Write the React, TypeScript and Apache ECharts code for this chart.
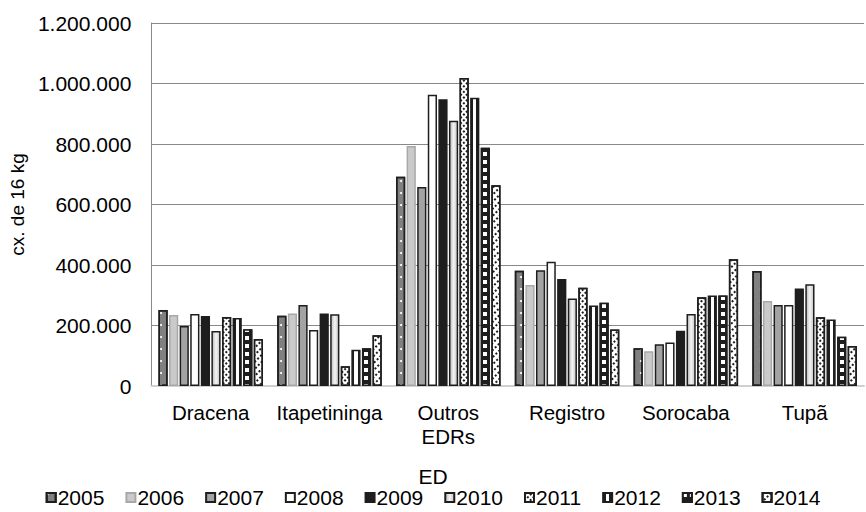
import React, { useEffect, useRef } from "react";
import * as echarts from "echarts";

// Escritórios de Desenvolvimento Rural (EDR)
const categories = ["Dracena", "Itapetininga", "Outros\nEDRs", "Registro", "Sorocaba", "Tupã"];
const years = ["2005", "2006", "2007", "2008", "2009", "2010", "2011", "2012", "2013", "2014"];

// Produção em caixas de 16 kg, por ano (ordem de categories)
const v2005 = [251000, 232000, 692000, 381000, 125000, 380000];
const v2006 = [235000, 240000, 793000, 334000, 115000, 281000];
const v2007 = [198000, 268000, 658000, 383000, 138000, 268000];
const v2008 = [238000, 185000, 963000, 411000, 144000, 268000];
const v2009 = [231000, 240000, 948000, 354000, 183000, 322000];
const v2010 = [182000, 237000, 877000, 289000, 238000, 336000];
const v2011 = [228000, 65000, 1018000, 325000, 293000, 227000];
const v2012 = [225000, 120000, 953000, 266000, 299000, 220000];
const v2013 = [188000, 125000, 788000, 275000, 299000, 163000];
const v2014 = [155000, 168000, 664000, 187000, 419000, 132000];

const seriesValues = [v2005, v2006, v2007, v2008, v2009, v2010, v2011, v2012, v2013, v2014];

const yTicks = [0, 200000, 400000, 600000, 800000, 1000000, 1200000];

const FONT = "Liberation Sans, Arial, sans-serif";
const DARK = "#1e1e1e";

const fmt = (v: number) => String(v).replace(/\B(?=(\d{3})+(?!\d))/g, ".");

const hGrad = (stops: [number, string][]) => ({
  type: "linear",
  x: 0,
  y: 0,
  x2: 1,
  y2: 0,
  colorStops: stops.map(([offset, color]) => ({ offset, color })),
});

const styles: any[] = [
  {
    color: "#808080",
    borderColor: DARK,
    decal: { symbol: "circle", color: "#ffffff", dashArrayX: [2, 8], dashArrayY: [2, 10], symbolSize: 1 },
  },
  { color: "#cacaca", borderColor: "#a8a8a8" },
  { color: "#a3a3a3", borderColor: DARK },
  { color: "#ffffff", borderColor: DARK },
  { color: "#1e1e1e", borderColor: DARK },
  {
    color: hGrad([
      [0, "#b9b9b9"],
      [0.5, "#f4f4f4"],
      [1, "#c4c4c4"],
    ]),
    borderColor: DARK,
  },
  {
    color: "#ffffff",
    borderColor: DARK,
    decal: { symbol: "rect", color: "#1e1e1e", dashArrayX: [2, 2], dashArrayY: [2, 2], rotation: Math.PI / 4, symbolSize: 1 },
  },
  {
    color: hGrad([
      [0, "#1e1e1e"],
      [0.3, "#1e1e1e"],
      [0.3, "#ffffff"],
      [0.7, "#ffffff"],
      [0.7, "#1e1e1e"],
      [1, "#1e1e1e"],
    ]),
    borderColor: DARK,
  },
  {
    color: "#1e1e1e",
    borderColor: DARK,
    decal: { symbol: "rect", color: "#ffffff", dashArrayX: [4, 3], dashArrayY: [4, 4], symbolSize: 1 },
  },
  {
    color: "#ffffff",
    borderColor: DARK,
    decal: { symbol: "rect", color: "#1e1e1e", dashArrayX: [[2, 2]], dashArrayY: [1.5, 3], rotation: -Math.PI / 4, symbolSize: 1 },
  },
];

export default function App() {
  const ref = useRef<HTMLDivElement>(null);

  useEffect(() => {
    if (!ref.current) return;
    const chart = echarts.init(ref.current, undefined, { renderer: "svg" });

    const series = years.map((y, i) => ({
      name: y,
      type: "bar",
      data: seriesValues[i],
      barGap: "15%",
      barCategoryGap: "12%",
      itemStyle: { ...styles[i], borderWidth: 1.5 },
      emphasis: { disabled: true },
    }));

    chart.setOption({
      animation: false,
      backgroundColor: "#ffffff",
      textStyle: { fontFamily: FONT },
      title: {
        text: "ED",
        left: "center",
        top: 466,
        padding: 0,
        textStyle: { fontFamily: FONT, fontSize: 21, fontWeight: "normal", color: "#000" },
      },
      legend: {
        data: years,
        left: "center",
        top: 487,
        padding: 0,
        icon: "rect",
        itemWidth: 9,
        itemHeight: 9,
        itemGap: 21,
        textStyle: { fontFamily: FONT, fontSize: 21, color: "#000", padding: [0, 0, 0, -3] },
        selectedMode: false,
      },
      grid: { left: 150, right: 2, top: 23, bottom: 126, containLabel: false },
      xAxis: {
        type: "category",
        data: categories,
        axisLine: { show: true, lineStyle: { color: "#d0d0d0", width: 2 } },
        axisTick: { show: false },
        axisLabel: { fontFamily: FONT, fontSize: 20.5, color: "#000", margin: 14, lineHeight: 24, interval: 0 },
      },
      yAxis: {
        type: "value",
        min: 0,
        max: 1200000,
        interval: 200000,
        name: "cx. de 16 kg",
        nameLocation: "middle",
        nameGap: 124,
        nameRotate: 90,
        nameTextStyle: { fontFamily: FONT, fontSize: 19, color: "#000" },
        axisLine: { show: true, lineStyle: { color: "#888888", width: 1 } },
        axisTick: { show: false },
        axisLabel: {
          fontFamily: FONT,
          fontSize: 21,
          color: "#000",
          margin: 20,
          formatter: (v: number) => (yTicks.includes(v) ? fmt(v) : ""),
        },
        splitLine: { show: true, lineStyle: { color: "#888888", width: 1 } },
      },
      series,
    });

    return () => chart.dispose();
  }, []);

  return (
    <div
      ref={ref}
      style={{ position: "absolute", left: 0, top: 0, width: 866, height: 512 }}
    />
  );
}
